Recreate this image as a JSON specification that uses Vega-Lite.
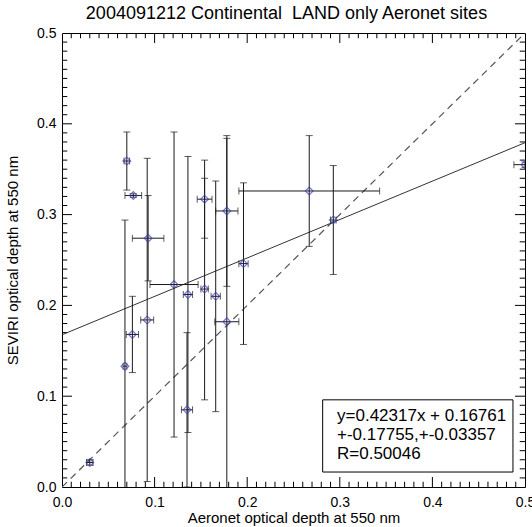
{
  "$schema": "https://vega.github.io/schema/vega-lite/v6.json",
  "width": 463,
  "height": 454,
  "autosize": {"type": "none"},
  "padding": {"left": 62, "top": 33, "right": 7, "bottom": 40},
  "background": "white",
  "title": {
    "text": "2004091212 Continental\u00a0 LAND only Aeronet sites",
    "font": "Liberation Sans",
    "fontSize": 18,
    "fontWeight": "normal",
    "color": "#000000",
    "anchor": "middle",
    "dx": -7,
    "offset": 3
  },
  "config": {
    "view": {"stroke": "#000000", "strokeWidth": 1},
    "axis": {
      "labelFont": "Liberation Sans",
      "titleFont": "Liberation Sans",
      "labelColor": "#000000",
      "titleColor": "#000000",
      "domain": false,
      "ticks": false,
      "grid": false,
      "labelFontSize": 14,
      "titleFontSize": 15,
      "titleFontWeight": "normal",
      "labelFlush": false,
      "labelOverlap": false
    }
  },
  "datasets": {
    "sites": [
      {"x": 0.030, "y": 0.027, "xlo": 0.0265, "xhi": 0.0335, "ylo": 0.024, "yhi": 0.030},
      {"x": 0.068, "y": 0.133, "xlo": 0.066, "xhi": 0.070, "ylo": -0.028, "yhi": 0.294},
      {"x": 0.070, "y": 0.359, "xlo": 0.067, "xhi": 0.073, "ylo": 0.327, "yhi": 0.391},
      {"x": 0.077, "y": 0.321, "xlo": 0.068, "xhi": 0.086, "ylo": 0.319, "yhi": 0.323},
      {"x": 0.076, "y": 0.168, "xlo": 0.0694, "xhi": 0.0826, "ylo": 0.126, "yhi": 0.210},
      {"x": 0.092, "y": 0.184, "xlo": 0.085, "xhi": 0.099, "ylo": 0.006, "yhi": 0.362},
      {"x": 0.093, "y": 0.274, "xlo": 0.076, "xhi": 0.110, "ylo": 0.227, "yhi": 0.321},
      {"x": 0.121, "y": 0.223, "xlo": 0.095, "xhi": 0.147, "ylo": 0.055, "yhi": 0.391},
      {"x": 0.135, "y": 0.085, "xlo": 0.129, "xhi": 0.141, "ylo": 0.000, "yhi": 0.170},
      {"x": 0.136, "y": 0.212, "xlo": 0.131, "xhi": 0.141, "ylo": 0.060, "yhi": 0.364},
      {"x": 0.154, "y": 0.218, "xlo": 0.150, "xhi": 0.158, "ylo": 0.096, "yhi": 0.340},
      {"x": 0.154, "y": 0.317, "xlo": 0.146, "xhi": 0.162, "ylo": 0.274, "yhi": 0.360},
      {"x": 0.166, "y": 0.210, "xlo": 0.161, "xhi": 0.171, "ylo": 0.083, "yhi": 0.337},
      {"x": 0.178, "y": 0.304, "xlo": 0.166, "xhi": 0.190, "ylo": 0.221, "yhi": 0.387},
      {"x": 0.178, "y": 0.182, "xlo": 0.165, "xhi": 0.191, "ylo": -0.020, "yhi": 0.384},
      {"x": 0.196, "y": 0.246, "xlo": 0.191, "xhi": 0.201, "ylo": 0.157, "yhi": 0.335},
      {"x": 0.267, "y": 0.326, "xlo": 0.191, "xhi": 0.343, "ylo": 0.265, "yhi": 0.387},
      {"x": 0.293, "y": 0.294, "xlo": 0.290, "xhi": 0.296, "ylo": 0.234, "yhi": 0.354},
      {"x": 0.500, "y": 0.355, "xlo": 0.488, "xhi": 0.512, "ylo": 0.352, "yhi": 0.358}
    ],
    "oneToOne": [
      {"x": 0.0, "y": 0.0},
      {"x": 0.5, "y": 0.5}
    ],
    "fit": [
      {"x": 0.0, "y": 0.16761},
      {"x": 0.5, "y": 0.379195}
    ],
    "majorTicks": [
      {"v": 0.1}, {"v": 0.2}, {"v": 0.3}, {"v": 0.4}
    ],
    "minorTicks": [
      {"v": 0.01}, {"v": 0.02}, {"v": 0.03}, {"v": 0.04}, {"v": 0.05}, {"v": 0.06}, {"v": 0.07}, {"v": 0.08}, {"v": 0.09},
      {"v": 0.11}, {"v": 0.12}, {"v": 0.13}, {"v": 0.14}, {"v": 0.15}, {"v": 0.16}, {"v": 0.17}, {"v": 0.18}, {"v": 0.19},
      {"v": 0.21}, {"v": 0.22}, {"v": 0.23}, {"v": 0.24}, {"v": 0.25}, {"v": 0.26}, {"v": 0.27}, {"v": 0.28}, {"v": 0.29},
      {"v": 0.31}, {"v": 0.32}, {"v": 0.33}, {"v": 0.34}, {"v": 0.35}, {"v": 0.36}, {"v": 0.37}, {"v": 0.38}, {"v": 0.39},
      {"v": 0.41}, {"v": 0.42}, {"v": 0.43}, {"v": 0.44}, {"v": 0.45}, {"v": 0.46}, {"v": 0.47}, {"v": 0.48}, {"v": 0.49}
    ]
  },
  "layer": [
    {
      "data": {"name": "oneToOne"},
      "mark": {"type": "line", "color": "#555555", "strokeWidth": 1.2, "strokeDash": [7, 5], "clip": true},
      "encoding": {
        "x": {
          "field": "x", "type": "quantitative",
          "scale": {"domain": [0, 0.5], "nice": false, "zero": false},
          "axis": {
            "orient": "bottom",
            "values": [0, 0.1, 0.2, 0.3, 0.4, 0.5],
            "format": ".1f",
            "labelPadding": 8,
            "title": "Aeronet optical depth at 550 nm",
            "titlePadding": 1
          }
        },
        "y": {
          "field": "y", "type": "quantitative",
          "scale": {"domain": [0, 0.5], "nice": false, "zero": false},
          "axis": {
            "orient": "left",
            "values": [0, 0.1, 0.2, 0.3, 0.4, 0.5],
            "format": ".1f",
            "labelPadding": 6,
            "title": "SEVIRI optical depth at 550 nm",
            "titlePadding": 16
          }
        }
      }
    },
    {
      "data": {"name": "majorTicks"},
      "mark": {"type": "rule", "color": "#000000", "strokeWidth": 1},
      "encoding": {
        "x": {"field": "v", "type": "quantitative"},
        "y": {"datum": 0, "type": "quantitative"},
        "y2": {"datum": 0.011}
      }
    },
    {
      "data": {"name": "majorTicks"},
      "mark": {"type": "rule", "color": "#000000", "strokeWidth": 1},
      "encoding": {
        "x": {"field": "v", "type": "quantitative"},
        "y": {"datum": 0.5, "type": "quantitative"},
        "y2": {"datum": 0.489}
      }
    },
    {
      "data": {"name": "majorTicks"},
      "mark": {"type": "rule", "color": "#000000", "strokeWidth": 1},
      "encoding": {
        "y": {"field": "v", "type": "quantitative"},
        "x": {"datum": 0, "type": "quantitative"},
        "x2": {"datum": 0.0108}
      }
    },
    {
      "data": {"name": "majorTicks"},
      "mark": {"type": "rule", "color": "#000000", "strokeWidth": 1},
      "encoding": {
        "y": {"field": "v", "type": "quantitative"},
        "x": {"datum": 0.5, "type": "quantitative"},
        "x2": {"datum": 0.4892}
      }
    },
    {
      "data": {"name": "minorTicks"},
      "mark": {"type": "rule", "color": "#000000", "strokeWidth": 1},
      "encoding": {
        "x": {"field": "v", "type": "quantitative"},
        "y": {"datum": 0, "type": "quantitative"},
        "y2": {"datum": 0.0058}
      }
    },
    {
      "data": {"name": "minorTicks"},
      "mark": {"type": "rule", "color": "#000000", "strokeWidth": 1},
      "encoding": {
        "x": {"field": "v", "type": "quantitative"},
        "y": {"datum": 0.5, "type": "quantitative"},
        "y2": {"datum": 0.4942}
      }
    },
    {
      "data": {"name": "minorTicks"},
      "mark": {"type": "rule", "color": "#000000", "strokeWidth": 1},
      "encoding": {
        "y": {"field": "v", "type": "quantitative"},
        "x": {"datum": 0, "type": "quantitative"},
        "x2": {"datum": 0.0057}
      }
    },
    {
      "data": {"name": "minorTicks"},
      "mark": {"type": "rule", "color": "#000000", "strokeWidth": 1},
      "encoding": {
        "y": {"field": "v", "type": "quantitative"},
        "x": {"datum": 0.5, "type": "quantitative"},
        "x2": {"datum": 0.4943}
      }
    },
    {
      "data": {"name": "fit"},
      "mark": {"type": "line", "color": "#333333", "strokeWidth": 1, "clip": true},
      "encoding": {
        "x": {"field": "x", "type": "quantitative"},
        "y": {"field": "y", "type": "quantitative"}
      }
    },
    {
      "data": {"name": "sites"},
      "mark": {"type": "rule", "color": "#1a1a1a", "strokeWidth": 1, "clip": true},
      "encoding": {
        "x": {"field": "x", "type": "quantitative"},
        "y": {"field": "ylo", "type": "quantitative"},
        "y2": {"field": "yhi"}
      }
    },
    {
      "data": {"name": "sites"},
      "mark": {"type": "rule", "color": "#1a1a1a", "strokeWidth": 1, "clip": true},
      "encoding": {
        "x": {"field": "xlo", "type": "quantitative"},
        "x2": {"field": "xhi"},
        "y": {"field": "y", "type": "quantitative"}
      }
    },
    {
      "data": {"name": "sites"},
      "mark": {"type": "tick", "orient": "horizontal", "color": "#1a1a1a", "size": 7, "thickness": 1, "clip": true},
      "encoding": {
        "x": {"field": "x", "type": "quantitative"},
        "y": {"field": "ylo", "type": "quantitative"}
      }
    },
    {
      "data": {"name": "sites"},
      "mark": {"type": "tick", "orient": "horizontal", "color": "#1a1a1a", "size": 7, "thickness": 1, "clip": true},
      "encoding": {
        "x": {"field": "x", "type": "quantitative"},
        "y": {"field": "yhi", "type": "quantitative"}
      }
    },
    {
      "data": {"name": "sites"},
      "mark": {"type": "tick", "orient": "vertical", "color": "#1a1a1a", "size": 7, "thickness": 1, "clip": true},
      "encoding": {
        "x": {"field": "xlo", "type": "quantitative"},
        "y": {"field": "y", "type": "quantitative"}
      }
    },
    {
      "data": {"name": "sites"},
      "mark": {"type": "tick", "orient": "vertical", "color": "#1a1a1a", "size": 7, "thickness": 1, "clip": true},
      "encoding": {
        "x": {"field": "xhi", "type": "quantitative"},
        "y": {"field": "y", "type": "quantitative"}
      }
    },
    {
      "data": {"name": "sites"},
      "mark": {"type": "point", "shape": "diamond", "filled": false, "color": "#3a3ab8", "size": 60, "strokeWidth": 1.2, "clip": true},
      "encoding": {
        "x": {"field": "x", "type": "quantitative"},
        "y": {"field": "y", "type": "quantitative"}
      }
    },
    {
      "data": {"values": [{}]},
      "mark": {"type": "rect", "fill": "white", "stroke": "#000000", "strokeWidth": 1},
      "encoding": {
        "x": {"datum": 0.2815, "type": "quantitative"},
        "x2": {"datum": 0.487},
        "y": {"datum": 0.0165, "type": "quantitative"},
        "y2": {"datum": 0.096}
      }
    },
    {
      "data": {"values": [{}]},
      "mark": {
        "type": "text",
        "align": "left",
        "baseline": "top",
        "font": "Liberation Sans",
        "fontSize": 17,
        "lineHeight": 19,
        "color": "#000000",
        "text": ["y=0.42317x + 0.16761", "+-0.17755,+-0.03357", "R=0.50046"]
      },
      "encoding": {
        "x": {"datum": 0.297, "type": "quantitative"},
        "y": {"datum": 0.087, "type": "quantitative"}
      }
    }
  ]
}
